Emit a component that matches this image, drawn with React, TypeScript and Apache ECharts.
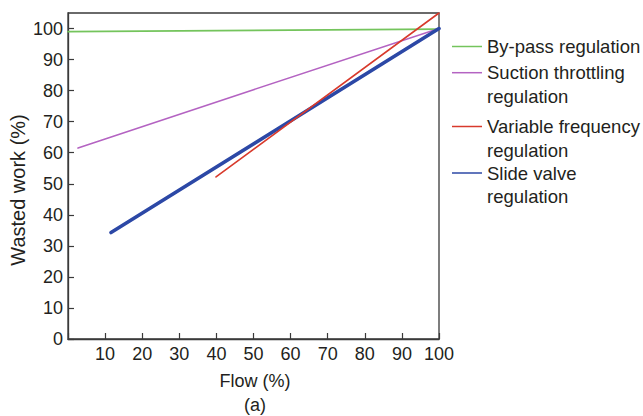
import React, { useEffect, useRef } from "react";
import * as echarts from "echarts";

const xTickValues = [10, 20, 30, 40, 50, 60, 70, 80, 90, 100];
const yTickValues = [0, 10, 20, 30, 40, 50, 60, 70, 80, 90, 100];

const seriesNames = [
  "By-pass regulation",
  "Suction throttling\nregulation",
  "Variable frequency\nregulation",
  "Slide valve\nregulation",
];
const seriesColors = ["#74c45c", "#b463c2", "#d83a2c", "#2c48a6"];
const seriesWidths = [1.6, 1.6, 1.6, 3.6];

const bypassData = [
  [0, 99],
  [100, 99.8],
];
const suctionData = [
  [2.7, 61.5],
  [50, 80.3],
  [100, 100],
];
const variableData = [
  [39.9, 52.2],
  [100, 105],
];
const slideData = [
  [11.6, 34.3],
  [100, 100],
];

const legendY = [46.5, 72.7, 126.5, 173];
const FONT = "'Liberation Sans', Arial, sans-serif";
const TXT = "#231f20";

export default function App() {
  const ref = useRef<HTMLDivElement>(null);
  useEffect(() => {
    if (!ref.current) return;
    const chart = echarts.init(ref.current, null, { renderer: "svg" });
    const datas = [bypassData, suctionData, variableData, slideData];
    const legendGraphics: any[] = [];
    seriesNames.forEach((n, i) => {
      legendGraphics.push({
        type: "line",
        shape: { x1: 452, y1: legendY[i], x2: 482, y2: legendY[i] },
        style: { stroke: seriesColors[i], lineWidth: 1.5 },
      });
      legendGraphics.push({
        type: "text",
        x: 487,
        y: legendY[i] - 11.5,
        style: {
          text: n,
          font: `18.5px ${FONT}`,
          fill: TXT,
          lineHeight: 23.5,
          textVerticalAlign: "top",
          verticalAlign: "top",
        },
      });
    });
    chart.setOption({
      animation: false,
      backgroundColor: "#ffffff",
      textStyle: { fontFamily: FONT },
      grid: {
        left: 68,
        top: 13,
        right: 204,
        bottom: 77,
        show: true,
        borderColor: "#3a3a3a",
        borderWidth: 1.3,
        containLabel: false,
      },
      xAxis: {
        type: "value",
        min: 0,
        max: 100,
        interval: 10,
        axisLine: { show: true, lineStyle: { color: "#3a3a3a", width: 1.3 } },
        axisTick: { show: true, inside: true, length: 6, lineStyle: { color: "#3a3a3a", width: 1.2 } },
        splitLine: { show: false },
        axisLabel: {
          color: TXT,
          fontSize: 18,
          fontFamily: FONT,
          margin: 6,
          formatter: (v: number) => (xTickValues.includes(v) ? String(v) : ""),
        },
      },
      yAxis: {
        type: "value",
        min: 0,
        max: 105,
        interval: 10,
        axisLine: { show: true, lineStyle: { color: "#3a3a3a", width: 1.3 } },
        axisTick: { show: true, inside: true, length: 6, lineStyle: { color: "#3a3a3a", width: 1.2 } },
        splitLine: { show: false },
        axisLabel: {
          color: TXT,
          fontSize: 18,
          fontFamily: FONT,
          margin: 5,
          showMaxLabel: false,
          formatter: (v: number) => (yTickValues.includes(v) ? String(v) : ""),
        },
      },
      series: datas.map((d, i) => ({
        type: "line",
        name: seriesNames[i],
        data: d,
        showSymbol: false,
        symbol: "none",
        clip: true,
        lineStyle: { color: seriesColors[i], width: seriesWidths[i], cap: "round" },
        z: i === 2 ? 4 : 3,
      })),
      graphic: [
        {
          type: "text",
          x: 18,
          y: 190,
          rotation: Math.PI / 2,
          style: {
            text: "Wasted work (%)",
            font: `20px ${FONT}`,
            fill: TXT,
            align: "center",
            verticalAlign: "middle",
          },
        },
        {
          type: "text",
          x: 255,
          y: 381,
          style: {
            text: "Flow (%)",
            font: `18px ${FONT}`,
            fill: TXT,
            align: "center",
            verticalAlign: "middle",
          },
        },
        {
          type: "text",
          x: 255,
          y: 405,
          style: {
            text: "(a)",
            font: `18px ${FONT}`,
            fill: TXT,
            align: "center",
            verticalAlign: "middle",
          },
        },
        ...legendGraphics,
      ],
    });
    return () => chart.dispose();
  }, []);
  return (
    <div
      ref={ref}
      style={{ position: "fixed", left: 0, top: 0, width: 643, height: 416, background: "#fff" }}
    />
  );
}
